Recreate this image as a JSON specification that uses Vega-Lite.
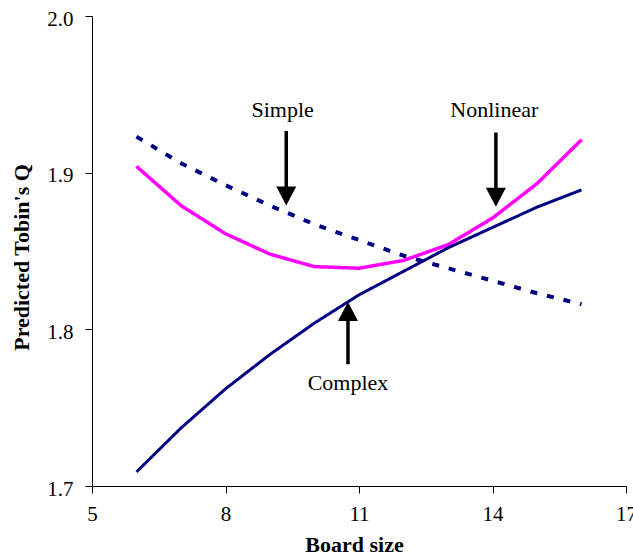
{
  "$schema": "https://vega.github.io/schema/vega-lite/v6.json",
  "width": 534,
  "height": 470,
  "autosize": "none",
  "padding": {"left": 92, "top": 16, "right": 7, "bottom": 70},
  "background": "white",
  "config": {
    "view": {"stroke": null},
    "font": "Liberation Serif",
    "axis": {"grid": false, "domainColor": "#000", "tickColor": "#000", "labelColor": "#000", "titleColor": "#000", "labelFont": "Liberation Serif", "titleFont": "Liberation Serif"}
  },
  "datasets": {
    "lines": [
      {"series": "Simple", "board": 6, "q": 1.923},
      {"series": "Simple", "board": 7, "q": 1.906},
      {"series": "Simple", "board": 8, "q": 1.892},
      {"series": "Simple", "board": 9, "q": 1.879},
      {"series": "Simple", "board": 10, "q": 1.867},
      {"series": "Simple", "board": 11, "q": 1.857},
      {"series": "Simple", "board": 12, "q": 1.847},
      {"series": "Simple", "board": 13, "q": 1.839},
      {"series": "Simple", "board": 14, "q": 1.831},
      {"series": "Simple", "board": 15, "q": 1.823},
      {"series": "Simple", "board": 16, "q": 1.816},
      {"series": "Nonlinear", "board": 6, "q": 1.904},
      {"series": "Nonlinear", "board": 7, "q": 1.879},
      {"series": "Nonlinear", "board": 8, "q": 1.861},
      {"series": "Nonlinear", "board": 9, "q": 1.848},
      {"series": "Nonlinear", "board": 10, "q": 1.840},
      {"series": "Nonlinear", "board": 11, "q": 1.839},
      {"series": "Nonlinear", "board": 12, "q": 1.844},
      {"series": "Nonlinear", "board": 13, "q": 1.854},
      {"series": "Nonlinear", "board": 14, "q": 1.871},
      {"series": "Nonlinear", "board": 15, "q": 1.893},
      {"series": "Nonlinear", "board": 16, "q": 1.921},
      {"series": "Complex", "board": 6, "q": 1.709},
      {"series": "Complex", "board": 7, "q": 1.737},
      {"series": "Complex", "board": 8, "q": 1.762},
      {"series": "Complex", "board": 9, "q": 1.784},
      {"series": "Complex", "board": 10, "q": 1.804},
      {"series": "Complex", "board": 11, "q": 1.822},
      {"series": "Complex", "board": 12, "q": 1.837},
      {"series": "Complex", "board": 13, "q": 1.852},
      {"series": "Complex", "board": 14, "q": 1.865},
      {"series": "Complex", "board": 15, "q": 1.878},
      {"series": "Complex", "board": 16, "q": 1.889}
    ],
    "arrows": [
      {"name": "Simple", "x": 9.365, "y1": 1.9266, "y2": 1.888, "tip": 1.8791, "dir": "down"},
      {"name": "Nonlinear", "x": 14.076, "y1": 1.9256, "y2": 1.8873, "tip": 1.8783, "dir": "down"},
      {"name": "Complex", "x": 10.752, "y1": 1.7777, "y2": 1.8085, "tip": 1.8174, "dir": "up"}
    ],
    "labels": [
      {"text": "Simple", "x": 9.283, "y": 1.9353},
      {"text": "Nonlinear", "x": 14.04, "y": 1.9355},
      {"text": "Complex", "x": 10.752, "y": 1.7611}
    ]
  },
  "layer": [
    {
      "data": {"name": "lines"},
      "mark": {"type": "line", "strokeCap": "butt"},
      "encoding": {
        "x": {
          "field": "board", "type": "quantitative",
          "scale": {"domain": [5, 17], "nice": false, "zero": false},
          "axis": {
            "values": [5, 8, 11, 14, 17], "tickSize": 7, "labelPadding": 10, "labelFontSize": 21, "labelFont": "Liberation Serif", "labelFlush": false, "labelOverlap": false,
            "title": "Board size", "titleFontSize": 22, "titleFontWeight": "bold", "titleFont": "Liberation Serif",
            "titleX": 262, "titleY": 65, "titleBaseline": "alphabetic", "titleAlign": "center"
          }
        },
        "y": {
          "field": "q", "type": "quantitative",
          "scale": {"domain": [1.7, 2.0], "nice": false, "zero": false},
          "axis": {
            "values": [1.7, 1.8, 1.9, 2.0], "format": ".1f", "tickSize": 7, "labelPadding": 12, "labelOffset": 3, "labelFontSize": 21, "labelFont": "Liberation Serif", "labelFlush": false, "labelOverlap": false,
            "title": "Predicted Tobin's Q", "titleFontSize": 22, "titleFontWeight": "bold", "titleFont": "Liberation Serif",
            "titleAngle": 270, "titleX": -64, "titleY": 241, "titleBaseline": "alphabetic", "titleAlign": "center"
          }
        },
        "color": {"field": "series", "type": "nominal", "scale": {"domain": ["Simple", "Nonlinear", "Complex"], "range": ["#000080", "#ff00ff", "#000080"]}, "legend": null},
        "strokeDash": {"field": "series", "type": "nominal", "scale": {"domain": ["Simple", "Nonlinear", "Complex"], "range": [[7, 10], [1, 0], [1, 0]]}, "legend": null},
        "strokeWidth": {"field": "series", "type": "nominal", "scale": {"domain": ["Simple", "Nonlinear", "Complex"], "range": [4, 3, 3]}, "legend": null}
      }
    },
    {
      "data": {"name": "arrows"},
      "mark": {"type": "rule", "color": "#000", "strokeWidth": 3.5},
      "encoding": {
        "x": {"field": "x", "type": "quantitative"},
        "y": {"field": "y1", "type": "quantitative"},
        "y2": {"field": "y2"}
      }
    },
    {
      "data": {"name": "arrows"},
      "mark": {"type": "point", "filled": true, "color": "#000", "opacity": 1, "size": 400, "strokeWidth": 0},
      "encoding": {
        "x": {"field": "x", "type": "quantitative"},
        "y": {"field": "tip", "type": "quantitative"},
        "shape": {"field": "dir", "type": "nominal", "scale": {"domain": ["down", "up"], "range": ["M-1,-1.9L1,-1.9L0,0Z", "M-1,1.9L1,1.9L0,0Z"]}, "legend": null}
      }
    },
    {
      "data": {"name": "labels"},
      "mark": {"type": "text", "font": "Liberation Serif", "fontSize": 22, "color": "#000", "align": "center", "baseline": "alphabetic"},
      "encoding": {
        "x": {"field": "x", "type": "quantitative"},
        "y": {"field": "y", "type": "quantitative"},
        "text": {"field": "text"}
      }
    }
  ]
}
